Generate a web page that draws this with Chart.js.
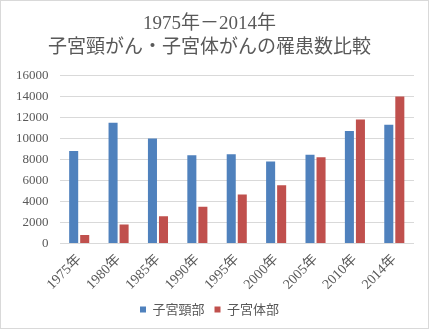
<!DOCTYPE html>
<html>
<head>
<meta charset="utf-8">
<script src="https://cdn.jsdelivr.net/npm/chart.js@4"></script>
<style>
    html, body { margin: 0; padding: 0; background: #fff; }
    #wrap {
        width: 427px;
        height: 327px;
        border: 1px solid #d9d9d9;
        position: relative;
    }
</style>
</head>
<body>
<div id="wrap"><canvas id="incidenceChart"></canvas></div>
<script>
// 子宮頸がん・子宮体がんの罹患数 (1975-2014)
const years = ['1975年', '1980年', '1985年', '1990年', '1995年', '2000年', '2005年', '2010年', '2014年'];
const cervixCases = [8800, 11500, 10000, 8400, 8500, 7800, 8450, 10700, 11300];
const corpusCases = [800, 1800, 2600, 3500, 4650, 5550, 8200, 11800, 14000];
const titleLines = ['1975年－2014年', '子宮頸がん・子宮体がんの罹患数比較'];

const textColor = '#595959';
const serif = "'Liberation Serif', 'DejaVu Serif', 'Noto Sans CJK JP', serif";
const sans = "'Noto Sans CJK JP', 'Noto Sans', sans-serif";

const ctx = document.getElementById('incidenceChart').getContext('2d');
const chart = new Chart(ctx, {
    type: 'bar',
    data: {
        labels: years,
        datasets: [
            {
                label: '子宮頸部',
                backgroundColor: '#4F81BD',
                data: cervixCases
            },
            {
                label: '子宮体部',
                backgroundColor: '#C0504D',
                data: corpusCases
            }
        ]
    },
    options: {
        responsive: true,
        maintainAspectRatio: false,
        animation: false,
        datasets: {
            bar: {
                categoryPercentage: 0.56,
                barPercentage: 0.82
            }
        },
        layout: {
            padding: { top: 4, left: 4, right: 14, bottom: 2 }
        },
        scales: {
            x: {
                grid: { display: false },
                border: { display: false },
                ticks: {
                    color: textColor,
                    font: { family: serif, size: 14 },
                    minRotation: 45,
                    maxRotation: 45,
                    padding: 0
                }
            },
            y: {
                min: 0,
                max: 16000,
                border: { display: false },
                grid: { color: '#d9d9d9', drawTicks: false },
                ticks: {
                    stepSize: 2000,
                    color: textColor,
                    font: { family: serif, size: 13 },
                    padding: 11,
                    callback: v => String(v)
                }
            }
        },
        plugins: {
            title: {
                display: true,
                text: titleLines,
                color: textColor,
                font: { family: serif, size: 19, weight: 'normal', lineHeight: 1.25 },
                padding: { top: 7, bottom: 16 }
            },
            legend: {
                position: 'bottom',
                labels: {
                    boxWidth: 6,
                    boxHeight: 6,
                    color: textColor,
                    font: { family: sans, size: 13 },
                    padding: 10
                }
            },
            tooltip: { enabled: false }
        }
    }
});
</script>
</body>
</html>
